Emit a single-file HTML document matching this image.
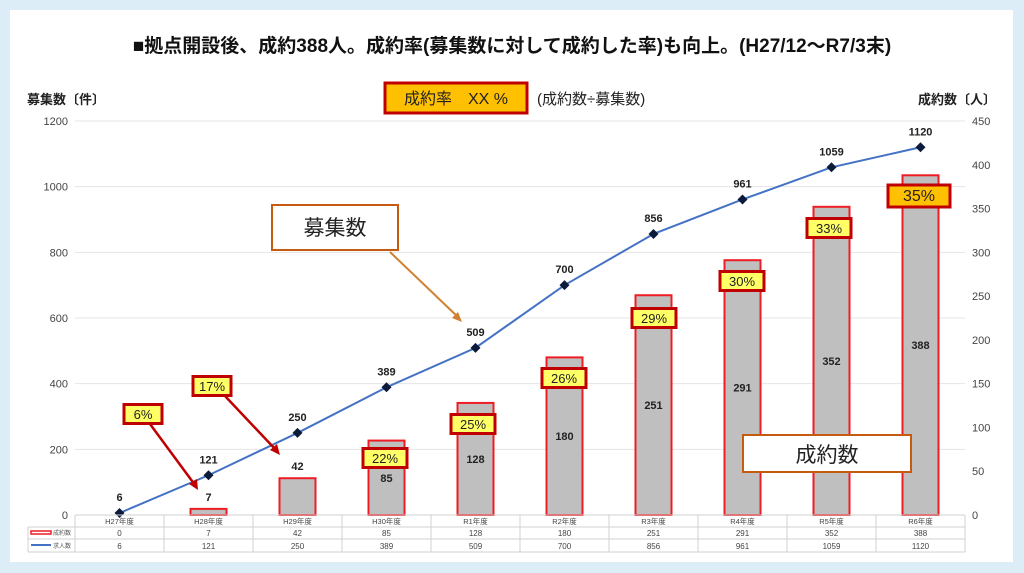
<!DOCTYPE html>
<html><head><meta charset="utf-8">
<style>
body{margin:0;width:1024px;height:573px;background:#dcedf8;font-family:"Liberation Sans","Noto Sans CJK JP",sans-serif;overflow:hidden}
#card{position:absolute;left:10px;top:10px;width:1003px;height:552px;background:#fff}
svg{position:absolute;left:0;top:0}
</style></head><body>
<div id="card"></div>
<svg id="chart" width="1024" height="573" font-family="Liberation Sans, Noto Sans CJK JP, sans-serif">
<text x="512" y="52" text-anchor="middle" font-size="19" font-weight="bold" fill="#111">■拠点開設後、成約388人。成約率(募集数に対して成約した率)も向上。(H27/12～R7/3末)</text>
<text x="27" y="104" font-size="13" font-weight="bold" fill="#222">募集数〔件〕</text>
<text x="918" y="104" font-size="13" font-weight="bold" fill="#222">成約数〔人〕</text>
<rect x="385" y="83" width="142" height="30" fill="#ffc000" stroke="#c00000" stroke-width="3"/>
<text x="456" y="104" text-anchor="middle" font-size="16" fill="#222">成約率　XX %</text>
<text x="537" y="104" font-size="15" fill="#222">(成約数÷募集数)</text>
<g id="grid"></g><g id="bars"></g><g id="line"></g><g id="rates"></g><g id="table"></g>
<g>
<rect x="272" y="205" width="126" height="45" fill="#fff" stroke="#c55a11" stroke-width="2"/>
<text x="335" y="235" text-anchor="middle" font-size="21" fill="#222">募集数</text>
<line x1="390" y1="252" x2="459" y2="318" stroke="#d08030" stroke-width="2"/>
<polygon points="462,322 452,318 458,312" fill="#d08030"/>
<rect x="743" y="435" width="168" height="37" fill="#fff" stroke="#c55a11" stroke-width="2"/>
<text x="827" y="462" text-anchor="middle" font-size="21" fill="#222">成約数</text>
<line x1="150" y1="424" x2="195" y2="485" stroke="#c00000" stroke-width="2.5"/>
<polygon points="198,490 189,484 197,479" fill="#c00000"/>
<line x1="225" y1="396" x2="276" y2="450" stroke="#c00000" stroke-width="2.5"/>
<polygon points="280,455 270,450 277,444" fill="#c00000"/>
</g>
</svg>
<script>
const categories=["H27年度","H28年度","H29年度","H30年度","R1年度","R2年度","R3年度","R4年度","R5年度","R6年度"];
const contracts=[0,7,42,85,128,180,251,291,352,388];
const recruits=[6,121,250,389,509,700,856,961,1059,1120];
const rates=["","6%","17%","22%","25%","26%","29%","30%","33%","35%"];
const leftTicks=[0,200,400,600,800,1000,1200];
const rightTicks=[0,50,100,150,200,250,300,350,400,450];
const NS="http://www.w3.org/2000/svg";
const X0=75,STEP=89,Y0=515,H=394;
const xc=i=>X0+STEP*(i+0.5);
const yl=v=>Y0-v/1200*H;
const yr=v=>Y0-v/450*H;
function mk(tag,attrs,parent,text){const e=document.createElementNS(NS,tag);for(const k in attrs)e.setAttribute(k,attrs[k]);if(text!==undefined)e.textContent=text;parent.appendChild(e);return e;}
const grid=document.getElementById('grid');
leftTicks.forEach(t=>{
 const l=mk('line',{x1:X0,x2:X0+STEP*10,y1:yl(t),y2:yl(t),stroke:'#e4e4e4'},grid);
 
 
 const tx=mk('text',{x:68,y:yl(t)+4,'text-anchor':'end','font-size':11,fill:'#444'},grid,t);
 
 
});
rightTicks.forEach(t=>{
 const tx=mk('text',{x:972,y:yr(t)+4,'font-size':11,fill:'#444'},grid,t);
 
 
});
const bars=document.getElementById('bars');
contracts.forEach((v,i)=>{
 if(v<=0)return;
 const r=mk('rect',{x:xc(i)-18,y:yr(v),width:36,height:Y0-yr(v),fill:'#bfbfbf',stroke:'#ee1c24','stroke-width':2},bars);
 
 
 const small=(Y0-yr(v))<40;
 const t=mk('text',{x:xc(i),y:small?yr(v)-8:(yr(v)+Y0)/2+4,'text-anchor':'middle','font-size':11,'font-weight':'bold',fill:'#222'},bars,v);
 
 
});
const line=document.getElementById('line');
const p=mk('polyline',{points:recruits.map((v,i)=>xc(i)+','+yl(v)).join(' '),fill:'none',stroke:'#4472c4','stroke-width':2},line);


recruits.forEach((v,i)=>{
 const x=xc(i),y=yl(v);
 const d=mk('polygon',{points:`${x},${y-5} ${x+5},${y} ${x},${y+5} ${x-5},${y}`,fill:'#0d1b3a'},line);
 
 
 const t=mk('text',{x:x,y:y-12,'text-anchor':'middle','font-size':11,'font-weight':'bold',fill:'#222'},line,v);
 
 
});
const rg=document.getElementById('rates');
const ratePos=[null,[143,414],[212,386],[385,458],[473,424],[564,378],[654,318],[742,281],[829,228],[919,196]];
rates.forEach((r,i)=>{
 if(!r)return;
 const last=i===rates.length-1;
 const w=last?62:(i<=2?38:44),h=last?22:19;
 const [cx,cy]=ratePos[i];
 const b=mk('rect',{x:cx-w/2,y:cy-h/2,width:w,height:h,fill:last?'#ffc000':'#ffff66',stroke:'#c00000','stroke-width':3},rg);
 
 
 const t=mk('text',{x:cx,y:cy+5,'text-anchor':'middle','font-size':last?16:13,fill:'#222'},rg,r);
 
 
});
const tb=document.getElementById('table');
const rowsY=[515,527,539,552];
rowsY.forEach((y,k)=>{const l=mk('line',{x1:k===0?X0:28,x2:X0+STEP*10,y1:y,y2:y,stroke:'#d0d0d0'},tb);});
for(let i=0;i<=10;i++){const l=mk('line',{x1:X0+STEP*i,x2:X0+STEP*i,y1:515,y2:552,stroke:'#d0d0d0'},tb);}
mk('line',{x1:28,x2:28,y1:527,y2:552,stroke:'#d0d0d0'},tb);
mk('rect',{x:31,y:531,width:20,height:3,fill:'none',stroke:'#ee1c24','stroke-width':1.5},tb);
mk('line',{x1:31,x2:51,y1:545,y2:545,stroke:'#4472c4','stroke-width':2},tb);
const lg1=mk('text',{x:53,y:535,'font-size':6,fill:'#555'},tb,'成約数');


const lg2=mk('text',{x:53,y:548,'font-size':6,fill:'#555'},tb,'求人数');


categories.forEach((c,i)=>{
 const a=mk('text',{x:xc(i),y:524,'text-anchor':'middle','font-size':7.5,fill:'#444'},tb,c);
 
 
 const b=mk('text',{x:xc(i),y:536,'text-anchor':'middle','font-size':8,fill:'#444'},tb,contracts[i]);
 
 
 const d=mk('text',{x:xc(i),y:549,'text-anchor':'middle','font-size':8,fill:'#444'},tb,recruits[i]);
 
 
});
</script>
</body></html>
